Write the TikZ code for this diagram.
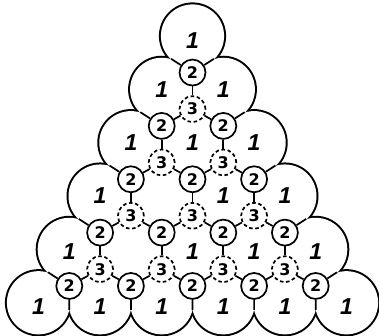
\documentclass[tikz,border=0pt]{standalone}
\usepackage{fontspec}
\setmainfont{Liberation Sans}
\newfontfamily\digitfont{DejaVu Sans}
\usetikzlibrary{calc}
\begin{document}
\begin{tikzpicture}[x=1pt,y=-1pt,
  twonode/.style={circle,draw,line width=1.7pt,fill=white,minimum size=26pt,inner sep=0pt,font=\digitfont\fontsize{16}{16}\selectfont\bfseries},
  threenode/.style={twonode,dash pattern=on 3.6pt off 2.6pt},
  onelabel/.style={inner sep=0pt,font=\fontsize{23}{23}\selectfont\bfseries\itshape},
  contact/.style={line width=1.7pt},
  rim/.style={line width=4pt}]
\useasboundingbox (0,0) rectangle (379,336);
\pgfmathsetmacro{\D}{61.6}
\pgfmathsetmacro{\H}{53.35}
\def\R{31.6pt}
\def\hh{7.07pt}
% centres of the big cells
\foreach \k in {0,...,5}{
  \foreach \j in {0,...,\k}{
    \coordinate (c-\k-\j) at ({192.5+(\j-\k/2)*\D},{36+\k*\H});
  }
}
% outline of the raft of cells
\foreach \k in {0,...,5}{\foreach \j in {0,...,\k}{\draw[rim] (c-\k-\j) circle[radius=\R];}}
\foreach \k in {0,...,5}{\foreach \j in {0,...,\k}{\fill[white] (c-\k-\j) circle[radius=\R];}}
% small circles "2"
\foreach \k in {0,...,4}{
  \foreach \j in {0,...,\k}{
    \node[twonode] (u-\k-\j) at ({192.5+(\j-\k/2)*\D},{37+(\k+2/3)*\H}) {2};
  }
}
% dashed circles "3"
\foreach \k in {1,...,4}{
  \pgfmathtruncatemacro{\km}{\k-1}
  \foreach \j in {0,...,\km}{
    \node[threenode] (d-\k-\j) at ({192.5+(\j+0.5-\k/2)*\D},{38+(\k+1/3)*\H}) {3};
  }
}
% contact faces between inner cells
\foreach \k in {1,...,4}{
  \pgfmathtruncatemacro{\km}{\k-1}
  \foreach \j in {0,...,\km}{
    \pgfmathtruncatemacro{\jp}{\j+1}
    \draw[contact] (d-\k-\j) -- (u-\km-\j);
    \draw[contact] (d-\k-\j) -- (u-\k-\j);
    \draw[contact] (d-\k-\j) -- (u-\k-\jp);
  }
}
% contact faces reaching the rim
\foreach \k in {0,...,4}{
  \pgfmathtruncatemacro{\kp}{\k+1}
  \coordinate (ml-\k) at ($(c-\k-0)!0.5!(c-\kp-0)$);
  \coordinate (cl-\k) at ($(ml-\k)!-\hh!(u-\k-0.center)$);
  \draw[contact] (u-\k-0) -- (cl-\k);
  \coordinate (mr-\k) at ($(c-\k-\k)!0.5!(c-\kp-\kp)$);
  \coordinate (cr-\k) at ($(mr-\k)!-\hh!(u-\k-\k.center)$);
  \draw[contact] (u-\k-\k) -- (cr-\k);
}
\foreach \j in {0,...,4}{
  \pgfmathtruncatemacro{\jp}{\j+1}
  \coordinate (mb-\j) at ($(c-5-\j)!0.5!(c-5-\jp)$);
  \coordinate (cb-\j) at ($(mb-\j)!-\hh!(u-4-\j.center)$);
  \draw[contact] (u-4-\j) -- (cb-\j);
}
% labels "1" (cells 3-1 and 4-1 carry none)
\foreach \k/\j/\ys in {0/0/5, 1/0/0, 1/1/0, 2/0/0, 2/1/0, 2/2/0,
                       3/0/0, 3/2/0, 3/3/0, 4/0/2, 4/2/2, 4/3/2, 4/4/2,
                       5/0/4, 5/1/4, 5/2/4, 5/3/4, 5/4/4, 5/5/4}{
  \node[onelabel,yshift={-\ys pt}] (one-\k-\j) at (c-\k-\j) {1};
}
\end{tikzpicture}
\end{document}
